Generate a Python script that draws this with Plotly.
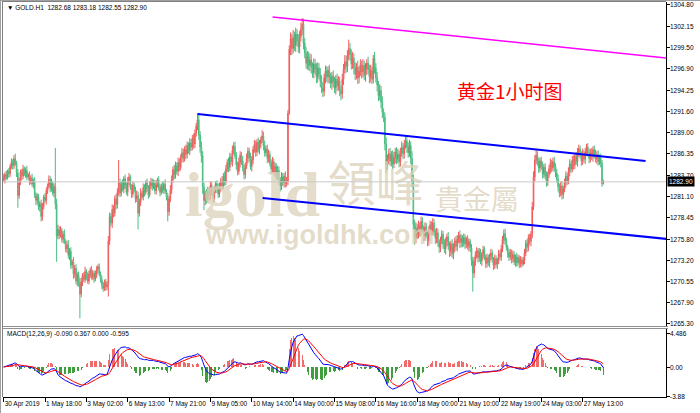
import plotly.graph_objects as go
import pandas as pd

# ---------------- data ----------------
FIRST_OPEN = 1283.5
CLOSE = [
    1283.2, 1283.8, 1283.5, 1284.2, 1283.9, 1284.8, 1285.3, 1284.9, 1285.8, 1285.2, 1284.0, 1281.2,
    1282.8, 1284.1, 1283.6, 1284.5, 1283.9, 1284.3, 1283.5, 1283.8, 1283.0, 1283.4, 1282.6, 1282.9,
    1281.3, 1280.6, 1281.0, 1279.8, 1280.2, 1278.6,
    1279.9, 1281.0, 1280.6, 1281.8, 1282.4, 1283.2, 1282.1, 1282.7, 1281.5, 1282.3,
    1280.2, 1276.2,
    1277.0, 1276.3, 1276.9, 1275.8, 1276.4, 1275.5, 1274.6, 1275.1,
    1273.8, 1274.3, 1272.6, 1273.0, 1271.5, 1272.2, 1270.6, 1271.4, 1270.4, 1269.0,
    1270.5, 1271.3, 1270.8, 1271.8, 1271.2, 1270.6, 1271.5, 1272.0, 1271.1, 1271.6,
    1270.9, 1271.4, 1272.1, 1272.4, 1271.5, 1270.8, 1270.1, 1269.7, 1270.5, 1269.9, 1270.2,
    1275.6, 1278.6, 1277.8, 1279.5, 1279.0, 1280.8, 1280.1, 1281.6, 1282.8,
    1281.5, 1282.6, 1282.0, 1283.3, 1282.4, 1281.6, 1282.9, 1283.5, 1282.2, 1281.4, 1282.5, 1281.9, 1280.8, 1281.2, 1279.0,
    1280.4, 1281.5, 1281.0, 1282.2, 1281.6, 1282.8, 1282.1, 1281.3, 1282.4, 1283.0,
    1282.3, 1282.7, 1281.8, 1282.5, 1283.1, 1282.2, 1281.6, 1282.4, 1281.9, 1282.6, 1281.7, 1281.0, 1279.2,
    1280.8, 1281.9, 1283.2, 1284.4, 1283.8, 1284.9, 1284.2, 1285.3, 1284.7, 1285.9,
    1286.5, 1285.8, 1286.9, 1286.3, 1287.4, 1286.8, 1287.7, 1287.2, 1288.3, 1287.6, 1288.9, 1289.8, 1290.6,
    1288.7, 1287.2, 1286.1, 1282.3, 1280.6, 1281.4,
    1280.7, 1281.8, 1281.2, 1282.5, 1281.6, 1280.9, 1281.9, 1282.7, 1282.1, 1281.4, 1282.3, 1283.0, 1282.4,
    1283.6, 1283.0, 1284.5, 1285.3, 1284.7, 1286.0, 1285.4, 1286.8, 1287.3,
    1286.1, 1285.0, 1284.2, 1285.3, 1286.2, 1285.5, 1284.6, 1283.8, 1284.9, 1285.8,
    1286.7, 1285.9, 1284.8, 1285.6, 1286.9, 1287.5, 1286.6, 1287.8, 1286.9, 1287.6, 1288.1, 1288.6,
    1287.4, 1286.5, 1287.0, 1285.8, 1286.3, 1285.2, 1284.5, 1285.4, 1284.1, 1284.8,
    1283.6, 1284.3, 1283.1, 1282.4, 1283.5, 1282.8, 1283.6, 1282.7, 1283.0,
    1291.4, 1299.3,
    1300.6, 1299.4, 1300.8, 1299.8, 1301.2, 1300.3, 1299.6, 1300.9, 1301.8, 1302.4, 1300.1,
    1298.8, 1297.6, 1298.4, 1297.3, 1298.0, 1297.1,
    1296.4, 1297.5, 1296.8, 1295.9, 1297.0, 1296.2, 1295.4,
    1294.6, 1294.1, 1295.8, 1296.6, 1295.9, 1296.7, 1295.8, 1295.1, 1296.0, 1295.3,
    1294.5, 1295.6, 1294.8, 1295.4, 1294.2, 1293.8, 1295.6,
    1296.9, 1297.8, 1297.2, 1298.6, 1299.4, 1298.7,
    1297.5, 1298.2, 1297.0, 1296.2, 1297.1, 1295.8, 1296.6, 1297.4, 1296.5, 1297.3,
    1296.1, 1296.9, 1297.6, 1296.8, 1295.9, 1296.7, 1295.6,
    1298.2, 1297.0, 1295.8, 1294.9, 1293.6, 1294.2, 1292.8, 1291.5, 1290.9,
    1287.6, 1285.0, 1285.8,
    1286.4, 1285.5, 1286.2, 1285.1, 1285.9, 1286.6, 1285.7, 1286.3, 1285.4, 1286.5,
    1287.2, 1286.4, 1287.5, 1288.0, 1287.2, 1286.5, 1287.4, 1285.8,
    1283.0, 1277.6, 1276.0, 1277.2,
    1276.4, 1277.5, 1276.8, 1278.0, 1277.1, 1276.2, 1277.3, 1276.5, 1275.6, 1276.8,
    1277.6, 1276.9, 1277.8, 1276.7, 1275.9, 1276.6, 1275.4, 1274.8, 1275.7, 1276.4,
    1275.2, 1274.6, 1275.5, 1276.1, 1275.0, 1274.3, 1275.2, 1274.0, 1274.8, 1275.6,
    1274.9, 1275.8, 1276.3, 1275.4, 1275.9,
    1275.3, 1276.0, 1275.2, 1275.8, 1274.9, 1275.5, 1274.7, 1273.2, 1271.6, 1273.0,
    1273.8, 1274.4, 1273.5, 1274.2, 1273.1, 1273.9, 1274.5, 1273.6, 1272.8, 1273.5,
    1272.9, 1273.7, 1274.1, 1273.3, 1272.6, 1273.4, 1272.7, 1273.2, 1274.0, 1273.6,
    1274.6, 1275.8, 1276.5, 1275.6, 1274.8, 1274.1,
    1273.6, 1274.2, 1273.4, 1273.9, 1273.0, 1273.6, 1272.9, 1273.5, 1272.8, 1273.3, 1272.7, 1273.2,
    1274.1, 1275.3, 1274.8, 1276.0, 1275.5, 1276.4,
    1279.8, 1283.5, 1285.6, 1286.2,
    1285.3, 1284.6, 1285.5, 1284.8, 1283.9, 1284.7, 1283.6, 1282.9, 1283.8, 1284.5,
    1285.2, 1284.6, 1285.4, 1284.8, 1284.0, 1283.2,
    1282.3, 1281.5, 1282.4, 1281.3, 1282.0, 1282.8, 1283.6, 1283.0,
    1284.2, 1285.1, 1284.5, 1285.6, 1285.0, 1286.1, 1285.4, 1286.5, 1287.0, 1286.2,
    1285.5, 1286.4, 1285.7, 1286.6, 1287.2, 1286.4, 1285.8, 1286.6, 1286.0, 1286.9,
    1286.3, 1285.7, 1286.3, 1285.4, 1285.9,
    1285.2, 1282.68, 1282.90,
]
# upper wick above the body, lower wick below the body
UPW = [
    0.4, 0.3, 0.5, 0.2, 0.4, 0.3, 0.5, 0.4, 0.4, 0.6,
    0.3, 0.5, 0.6, 0.3, 0.4, 0.5, 0.3, 0.4, 0.6, 0.2,
    0.4, 0.3, 0.5, 0.4, 0.6, 0.3, 0.5, 0.4, 0.3, 0.5,
    0.4, 0.3, 0.5, 0.4, 0.3, 0.5, 0.4, 0.6, 0.3, 0.4,
    4.8, 0.6, 0.6, 0.4, 0.5, 0.3, 0.4, 0.6, 0.3, 0.5,
    0.6, 0.4, 0.5, 0.3, 0.6, 0.4, 0.5, 0.3, 0.4, 0.6,
    0.5, 0.3, 0.4, 0.6, 0.3, 0.5, 0.4, 0.3, 0.5, 0.4,
    0.3, 0.5, 0.4, 0.3, 0.4, 0.3, 0.5, 0.4, 0.3, 0.4,
    0.4, 0.6, 0.5, 0.4, 0.6, 0.5, 0.4, 0.6, 0.5, 2.8,
    0.5, 0.4, 0.6, 0.3, 0.5, 0.4, 0.6, 0.5, 0.3, 0.4,
    0.5, 0.3, 0.4, 0.6, 0.5, 0.4, 0.6, 0.3, 0.5, 0.4,
    0.3, 0.5, 0.4, 0.6, 0.4, 0.3, 0.5, 0.4, 0.6, 0.3,
    0.5, 0.4, 0.3, 0.5, 0.4, 0.6, 0.3, 0.5, 0.4, 0.6,
    0.5, 0.4, 0.6, 0.5, 0.4, 0.6, 0.5, 0.4, 0.6, 0.5,
    0.4, 0.6, 0.5, 0.4, 0.6, 0.5, 0.4, 0.6, 0.5, 0.4,
    0.8, 0.6, 0.5, 0.7, 0.6, 0.5, 0.4, 0.6, 0.5, 0.4,
    0.5, 0.4, 0.6, 0.5, 0.3, 0.4, 0.6, 0.5, 0.4, 0.6,
    0.4, 0.6, 0.5, 0.4, 0.6, 0.5, 0.4, 0.6, 0.5, 0.6,
    0.5, 0.4, 0.6, 0.5, 0.4, 0.6, 0.5, 0.4, 0.6, 0.5,
    0.4, 0.6, 0.5, 0.4, 0.6, 0.5, 0.4, 0.6, 0.5, 0.4,
    0.7, 0.5, 0.6, 0.4, 0.5, 0.6, 0.4, 0.5, 0.6, 0.4,
    0.5, 0.4, 0.6, 0.5, 0.4, 0.6, 0.5, 0.4, 0.6, 0.5,
    0.4, 0.5, 0.8, 0.6, 0.9, 0.7, 0.8, 0.6, 0.9, 0.7,
    0.8, 0.8, 0.7, 0.6, 0.8, 0.7, 0.6, 0.8, 0.7, 0.6,
    0.7, 0.6, 0.8, 0.7, 0.6, 0.8, 0.7, 0.6, 0.5, 0.7,
    0.6, 0.5, 0.7, 0.6, 0.5, 0.7, 0.6, 0.5, 0.7, 0.6,
    0.5, 0.6, 0.7, 0.6, 0.8, 0.7, 0.6, 1.1, 0.7, 0.6,
    0.8, 0.6, 0.7, 0.5, 0.8, 0.6, 0.7, 0.5, 0.8, 0.6,
    0.7, 0.5, 0.8, 0.6, 0.7, 0.5, 0.4, 0.8, 0.6, 0.7,
    0.5, 0.8, 0.6, 0.7, 0.5, 0.6, 0.8, 0.5, 0.6, 0.7,
    0.5, 0.6, 0.7, 0.5, 0.6, 0.7, 0.5, 0.6, 0.7, 0.5,
    0.6, 0.7, 0.5, 0.6, 0.7, 0.5, 0.9, 0.8, 0.6, 0.7,
    0.5, 0.6, 0.4, 0.6, 0.5, 0.4, 0.6, 0.5, 0.4, 0.6,
    0.5, 0.4, 0.6, 0.5, 0.4, 0.6, 0.5, 0.4, 0.4, 0.5,
    0.4, 0.6, 0.5, 0.4, 0.6, 0.5, 0.4, 0.6, 0.5, 0.4,
    0.6, 0.5, 0.4, 0.6, 0.5, 0.4, 0.5, 0.4, 0.3, 0.5,
    0.4, 0.3, 0.5, 0.4, 0.6, 0.5, 0.4, 0.3, 0.5, 0.4,
    0.3, 0.5, 0.4, 0.3, 0.5, 0.4, 0.3, 0.5, 0.4, 0.3,
    0.5, 0.4, 0.3, 0.5, 0.4, 0.5, 0.4, 0.5, 0.6, 0.4,
    0.3, 0.5, 0.4, 0.3, 0.5, 0.4, 0.3, 0.5, 0.4, 0.3,
    0.4, 0.3, 0.4, 0.5, 0.4, 0.5, 0.4, 0.5, 0.4, 0.6,
    0.7, 0.6, 0.7, 0.5, 0.6, 0.4, 0.5, 0.6, 0.4, 0.5,
    0.6, 0.4, 0.5, 0.6, 0.4, 0.5, 0.6, 0.4, 0.5, 0.6,
    0.4, 0.5, 0.6, 0.4, 0.5, 0.6, 0.4, 0.5, 0.6, 0.4,
    0.5, 0.6, 0.4, 0.5, 0.6, 0.5, 0.4, 0.5, 0.6, 0.4,
    0.5, 0.4, 0.5, 0.6, 0.4, 0.5, 0.4, 0.5, 0.6, 0.4,
    0.5, 0.4, 0.5, 0.4, 0.28,
]
DNW = [
    0.3, 0.5, 0.4, 0.3, 0.5, 0.4, 0.3, 0.5, 0.4, 0.3,
    0.5, 1.5, 0.4, 0.3, 0.5, 0.4, 0.3, 0.5, 0.4, 0.3,
    0.5, 0.4, 0.3, 0.5, 0.4, 0.6, 0.5, 0.4, 0.6, 0.6,
    0.5, 0.4, 0.3, 0.5, 0.4, 0.3, 0.5, 0.4, 0.3, 0.5,
    0.7, 3.2, 0.4, 0.5, 0.3, 0.4, 0.5, 0.3, 0.4, 0.5,
    0.4, 0.6, 0.5, 0.4, 0.6, 0.5, 0.4, 0.6, 0.5, 3.0,
    0.4, 0.5, 0.3, 0.4, 0.5, 0.3, 0.4, 0.5, 0.3, 0.4,
    0.5, 0.3, 0.4, 0.5, 0.3, 0.4, 0.5, 0.4, 0.3, 0.5,
    0.4, 1.5, 0.5, 0.4, 0.6, 0.5, 0.4, 0.6, 0.5, 0.4,
    0.5, 0.4, 0.3, 0.5, 0.4, 0.3, 0.5, 0.4, 0.3, 0.5,
    0.4, 0.3, 0.5, 0.4, 2.0, 0.4, 0.5, 0.3, 0.4, 0.5,
    0.3, 0.4, 0.5, 0.3, 0.4, 0.5, 0.3, 0.4, 0.5, 0.3,
    0.4, 0.5, 0.3, 0.4, 0.5, 0.3, 0.4, 1.2, 0.5, 0.4,
    0.5, 0.4, 0.6, 0.5, 0.4, 0.6, 0.5, 0.4, 0.6, 0.5,
    0.4, 0.6, 0.5, 0.4, 0.6, 0.5, 0.4, 0.6, 0.5, 0.4,
    0.5, 0.6, 0.7, 0.8, 0.9, 1.2, 0.6, 0.5, 0.4, 0.6,
    0.5, 0.4, 0.6, 0.5, 0.4, 0.6, 0.5, 0.4, 0.6, 0.5,
    0.4, 0.6, 0.5, 0.4, 0.6, 0.5, 0.4, 0.6, 0.5, 0.4,
    0.6, 0.5, 0.4, 0.6, 0.5, 0.4, 0.6, 0.5, 0.4, 0.6,
    0.5, 0.4, 0.6, 0.5, 0.4, 0.6, 0.5, 0.4, 0.6, 0.5,
    0.4, 0.6, 0.5, 0.4, 0.6, 0.5, 0.4, 0.6, 0.5, 0.4,
    0.6, 0.5, 0.4, 0.6, 0.7, 0.5, 0.4, 0.6, 0.5, 0.4,
    0.5, 0.2, 0.7, 0.8, 0.6, 0.7, 0.8, 0.6, 0.7, 0.8,
    0.6, 0.7, 0.8, 0.6, 0.7, 0.8, 0.6, 0.7, 0.8, 0.6,
    0.7, 0.6, 0.8, 0.7, 0.6, 0.8, 0.7, 0.7, 0.6, 0.7,
    0.6, 0.8, 0.7, 0.6, 0.8, 0.7, 0.6, 0.8, 0.7, 0.6,
    0.7, 0.8, 0.6, 0.7, 0.6, 0.8, 0.7, 0.6, 0.8, 0.7,
    0.6, 0.8, 0.7, 0.6, 0.8, 0.7, 0.6, 0.8, 0.7, 0.6,
    0.8, 0.7, 0.6, 0.8, 0.7, 0.6, 0.5, 0.7, 0.6, 0.8,
    0.7, 0.6, 0.8, 0.7, 0.6, 0.8, 1.0, 0.6, 0.7, 0.6,
    0.7, 0.6, 0.5, 0.7, 0.6, 0.5, 0.7, 0.6, 0.5, 0.7,
    0.6, 0.5, 0.7, 0.6, 0.5, 0.7, 0.8, 0.6, 0.9, 0.7,
    0.6, 0.5, 0.7, 0.6, 0.5, 0.7, 0.6, 0.5, 0.7, 0.6,
    0.5, 0.7, 0.6, 0.5, 0.7, 0.6, 0.5, 0.7, 0.6, 0.5,
    0.6, 0.5, 0.7, 0.6, 0.5, 0.7, 0.6, 0.5, 0.7, 0.6,
    0.5, 0.6, 0.5, 0.7, 0.6, 0.5, 0.4, 0.6, 0.5, 0.4,
    0.6, 0.5, 0.7, 2.3, 0.6, 0.5, 0.4, 0.6, 0.5, 0.4,
    0.6, 0.5, 0.4, 0.6, 0.5, 0.4, 0.6, 0.5, 0.4, 0.6,
    0.5, 0.4, 0.6, 0.5, 0.4, 0.5, 0.4, 0.6, 0.5, 0.4,
    0.6, 0.5, 0.4, 0.6, 0.5, 0.4, 0.6, 0.5, 0.4, 0.6,
    0.5, 0.4, 0.2, 0.5, 0.4, 0.6, 0.5, 0.4, 0.6, 0.5,
    0.4, 0.6, 0.5, 0.4, 0.6, 0.5, 0.4, 0.6, 0.5, 0.4,
    0.6, 0.5, 0.4, 0.6, 0.5, 0.4, 0.6, 0.5, 0.4, 0.6,
    0.5, 0.4, 0.6, 0.5, 0.4, 0.6, 0.5, 0.4, 0.6, 0.5,
    0.4, 0.6, 0.5, 0.4, 0.6, 0.5, 0.4, 0.6, 0.5, 0.4,
    0.6, 0.5, 0.4, 0.6, 0.5, 0.4, 0.6, 0.5, 0.4, 0.6,
    0.5, 0.4, 0.5, 0.4, 0.13,
]

PRICE_TICKS = [1304.80, 1302.15, 1299.50, 1296.90, 1294.25, 1291.60, 1289.00, 1286.35,
               1283.70, 1281.10, 1278.45, 1275.80, 1273.20, 1270.55, 1267.90, 1265.30]
MACD_TICKS = [4.486, 0.0, -3.88]
MACD_TICK_TEXT = ["4.486", "0.00", "-3.88"]
TIME_LABELS = ["30 Apr 2019", "1 May 18:00", "3 May 02:00", "6 May 13:00", "7 May 21:00",
               "9 May 05:00", "10 May 14:00", "14 May 00:00", "15 May 08:00", "16 May 16:00",
               "18 May 00:00", "21 May 10:00", "22 May 19:00", "24 May 03:00", "27 May 13:00"]
TIME_LABEL_BARS = [0, 32, 64, 96, 128, 160, 192, 224, 256, 288, 320, 352, 384, 416, 448]

# trend lines: (bar index, price) end points
CHANNEL_TOP = ([150.1, 496.7], [1291.30, 1285.48])
CHANNEL_BOTTOM = ([200.4, 513.0], [1280.90, 1275.83])
RESISTANCE = ([208.1, 513.0], [1303.31, 1298.24])
LAST_PRICE = 1282.90

# ---------------- derived series ----------------
n = len(CLOSE)
bars = list(range(n))
OPEN = [FIRST_OPEN] + CLOSE[:-1]
HIGH = [max(o, c) + u for o, c, u in zip(OPEN, CLOSE, UPW)]
LOW = [min(o, c) - d for o, c, d in zip(OPEN, CLOSE, DNW)]

s = pd.Series(CLOSE)
dif = s.ewm(span=12, adjust=False).mean() - s.ewm(span=26, adjust=False).mean()
dea = dif.ewm(span=9, adjust=False).mean()
hist = 2 * (dif - dea)

# ---------------- geometry ----------------
W, H = 700, 413
def py(px):  # pixel row -> paper y
    return 1 - px / H
def pxx(px):
    return px / W

X_RANGE = [-0.5, 512.5]
MAIN_RANGE = [1265.05, 1305.17]
MACD_RANGE = [-4.0, 5.067]

fig = go.Figure()

# watermark (drawn first so it sits under the candles)
wm = "rgba(220,209,185,0.75)"
fig.add_trace(go.Scatter(x=[192.5], y=[1280.6], mode="text", text=["<b>igold</b>"],
                         textfont=dict(family="Liberation Serif", size=64, color=wm),
                         hoverinfo="skip", showlegend=False))
fig.add_trace(go.Scatter(x=[288], y=[1282.0], mode="text", text=["領峰"],
                         textfont=dict(family="Noto Sans CJK TC", size=48, color=wm),
                         hoverinfo="skip", showlegend=False))
fig.add_trace(go.Scatter(x=[366], y=[1280.3], mode="text", text=["貴金屬"],
                         textfont=dict(family="Noto Sans CJK TC", size=28, color=wm),
                         hoverinfo="skip", showlegend=False))
fig.add_trace(go.Scatter(x=[245], y=[1276.1], mode="text", text=["<b>www.igoldhk.com</b>"],
                         textfont=dict(family="Liberation Sans", size=27, color=wm),
                         hoverinfo="skip", showlegend=False))

# last price line
fig.add_trace(go.Scatter(x=[X_RANGE[0], X_RANGE[1]], y=[LAST_PRICE, LAST_PRICE], mode="lines",
                         line=dict(color="#c8c8c8", width=1), hoverinfo="skip", showlegend=False))

fig.add_trace(go.Candlestick(
    x=bars, open=OPEN, high=HIGH, low=LOW, close=CLOSE,
    increasing=dict(line=dict(color="#f25a5a", width=1), fillcolor="#ffa5a5"),
    decreasing=dict(line=dict(color="#48bd80", width=1), fillcolor="#a5dfc2"),
    whiskerwidth=0, showlegend=False, hoverinfo="skip"))

for xs, ys, col, wdt in [(CHANNEL_TOP[0], CHANNEL_TOP[1], "#0000ff", 2),
                         (CHANNEL_BOTTOM[0], CHANNEL_BOTTOM[1], "#0000ff", 2),
                         (RESISTANCE[0], RESISTANCE[1], "#ff00ff", 1.5)]:
    fig.add_trace(go.Scatter(x=xs, y=ys, mode="lines", line=dict(color=col, width=wdt),
                             hoverinfo="skip", showlegend=False))

# MACD panel
fig.add_trace(go.Bar(x=bars, y=hist, yaxis="y2",
                     marker=dict(color=["#f26b6b" if v >= 0 else "#3f9f3f" for v in hist], line=dict(width=0)),
                     width=0.6, showlegend=False, hoverinfo="skip"))
fig.add_trace(go.Scatter(x=bars, y=dif, yaxis="y2", mode="lines", line=dict(color="#0000ff", width=1),
                         showlegend=False, hoverinfo="skip"))
fig.add_trace(go.Scatter(x=bars, y=dea, yaxis="y2", mode="lines", line=dict(color="#ff0000", width=1),
                         showlegend=False, hoverinfo="skip"))

small = dict(family="Liberation Sans", size=6.5, color="#000000")
fig.update_layout(
    width=W, height=H, margin=dict(l=0, r=0, t=0, b=0, autoexpand=False),
    paper_bgcolor="white", plot_bgcolor="white", bargap=0, hovermode=False,
    xaxis=dict(domain=[pxx(3), pxx(666)], range=X_RANGE, anchor="y2", automargin=False,
               tickmode="array", tickvals=TIME_LABEL_BARS, ticktext=TIME_LABELS, tickangle=0,
               ticks="outside", ticklen=4, tickcolor="#000", tickfont=small,
               ticklabelposition="outside right", showgrid=False, zeroline=False,
               showline=True, linecolor="#000", linewidth=1, rangeslider=dict(visible=False)),
    yaxis=dict(domain=[py(326), py(2)], range=MAIN_RANGE, side="right", anchor="x", automargin=False,
               tickmode="array", tickvals=PRICE_TICKS, showticklabels=False,
               ticks="outside", ticklen=3, tickcolor="#000",
               showgrid=False, zeroline=False, showline=True, linecolor="#000", linewidth=1),
    yaxis2=dict(domain=[py(397), py(329)], range=MACD_RANGE, side="right", anchor="x", automargin=False,
                tickmode="array", tickvals=MACD_TICKS, showticklabels=False,
                ticks="outside", ticklen=3, tickcolor="#000",
                showgrid=False, zeroline=False, showline=True, linecolor="#000", linewidth=1),
    showlegend=False,
)

# frames and separators
shapes = [
    dict(type="line", xref="paper", yref="paper", x0=pxx(0.5), x1=pxx(0.5), y0=py(0), y1=py(413), line=dict(color="#a0a0a0", width=1)),
    dict(type="line", xref="paper", yref="paper", x0=pxx(2.5), x1=pxx(2.5), y0=py(1), y1=py(397), line=dict(color="#808080", width=1)),
    dict(type="line", xref="paper", yref="paper", x0=0, x1=1, y0=py(0.5), y1=py(0.5), line=dict(color="#a0a0a0", width=1)),
    dict(type="line", xref="paper", yref="paper", x0=pxx(2.5), x1=pxx(666), y0=py(1.5), y1=py(1.5), line=dict(color="#808080", width=1)),
    dict(type="line", xref="paper", yref="paper", x0=pxx(2.5), x1=pxx(668), y0=py(326.5), y1=py(326.5), line=dict(color="#909090", width=1)),
    dict(type="line", xref="paper", yref="paper", x0=pxx(2.5), x1=pxx(668), y0=py(328.5), y1=py(328.5), line=dict(color="#909090", width=1)),
]
fig.update_layout(shapes=shapes)

annotations = [
    dict(xref="paper", yref="paper", x=pxx(5), y=py(8), xanchor="left", yanchor="middle", showarrow=False,
         text="▼ GOLD.H1  1282.68 1283.18 1282.55 1282.90", font=small),
    dict(xref="paper", yref="paper", x=pxx(5), y=py(334), xanchor="left", yanchor="middle", showarrow=False,
         text="MACD(12,26,9) -0.090 0.367 0.000 -0.595", font=small),
    dict(xref="paper", yref="paper", x=pxx(510), y=py(90), xanchor="center", yanchor="middle", showarrow=False,
         text="黄金1小时图", font=dict(family="Noto Sans CJK SC", size=19, color="#ff0000")),
]
for v in PRICE_TICKS:
    annotations.append(dict(xref="paper", yref="y", x=pxx(669), y=v, xanchor="left", yanchor="middle",
                            showarrow=False, text=f"{v:.2f}", font=small, borderpad=0))
for v, t in zip(MACD_TICKS, MACD_TICK_TEXT):
    annotations.append(dict(xref="paper", yref="y2", x=pxx(669), y=v, xanchor="left", yanchor="middle",
                            showarrow=False, text=t, font=small, borderpad=0))
annotations.append(dict(xref="paper", yref="y", x=pxx(667), y=LAST_PRICE, xanchor="left", yanchor="middle",
                        showarrow=False, text="1282.90", bgcolor="#000000", borderpad=1,
                        font=dict(family="Liberation Sans", size=6.5, color="#ffffff")))
fig.update_layout(annotations=annotations)

fig.write_html("out.html", config={"displayModeBar": False, "staticPlot": True},
               post_script="document.body.style.margin='0px';document.body.style.padding='0px';")
